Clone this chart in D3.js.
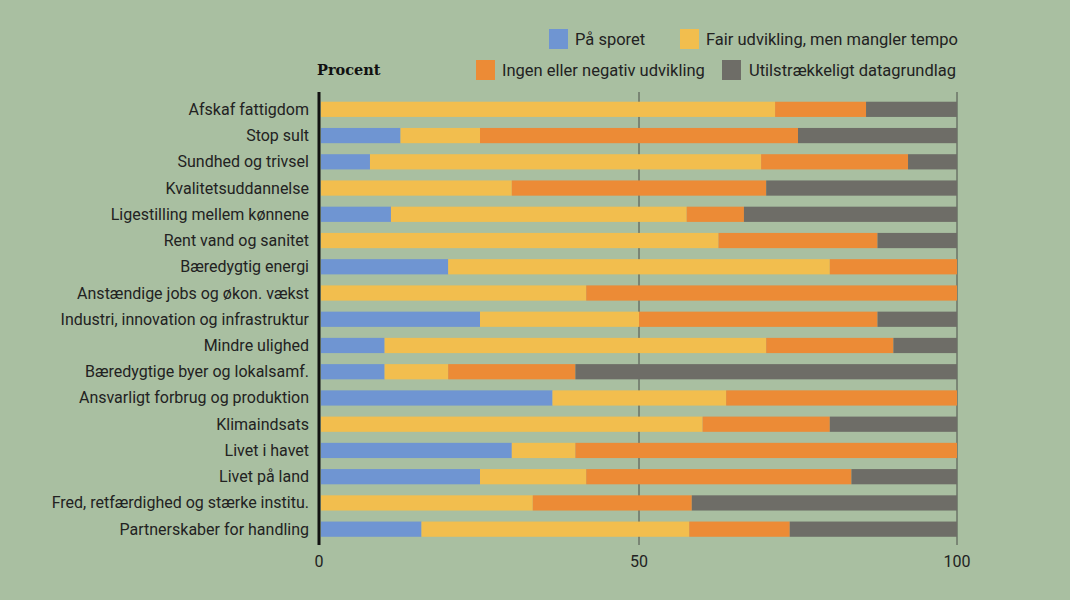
<!DOCTYPE html>
<html>
<head>
<meta charset="utf-8">
<script src="https://cdn.jsdelivr.net/npm/d3@7"></script>
<style>
  html, body { margin: 0; padding: 0; background: #a9bfa1; }
  svg { display: block; }
</style>
</head>
<body>
<svg id="chart" width="1070" height="600"></svg>
<script>
const categories = [
  "Afskaf fattigdom", "Stop sult", "Sundhed og trivsel", "Kvalitetsuddannelse",
  "Ligestilling mellem kønnene", "Rent vand og sanitet", "Bæredygtig energi",
  "Anstændige jobs og økon. vækst", "Industri, innovation og infrastruktur",
  "Mindre ulighed", "Bæredygtige byer og lokalsamf.", "Ansvarligt forbrug og produktion",
  "Klimaindsats", "Livet i havet", "Livet på land",
  "Fred, retfærdighed og stærke institu.", "Partnerskaber for handling"
];
const seriesNames = ["På sporet", "Fair udvikling, men mangler tempo", "Ingen eller negativ udvikling", "Utilstrækkeligt datagrundlag"];
const paaSporet = [0, 12.5, 7.7, 0, 11, 0, 20, 0, 25, 10, 10, 36.4, 0, 30, 25, 0, 15.8];
const fair      = [71.4, 12.5, 61.5, 30, 46.5, 62.5, 60, 41.7, 25, 60, 10, 27.3, 60, 10, 16.7, 33.3, 42.1];
const ingen     = [14.3, 50, 23.1, 40, 9, 25, 20, 58.3, 37.5, 20, 20, 36.3, 20, 60, 41.7, 25, 15.8];
const utilstr   = [14.3, 25, 7.7, 30, 33.5, 12.5, 0, 0, 12.5, 10, 60, 0, 20, 0, 16.6, 41.7, 26.3];
const xTicks = [0, 50, 100];
const colors = ["#6f95d2", "#f2be4e", "#ec8b36", "#6e6d67"];

const keys = ["a", "b", "c", "d"];
const rows = categories.map((c, i) => ({ cat: c, a: paaSporet[i], b: fair[i], c: ingen[i], d: utilstr[i] }));
const stacked = d3.stack().keys(keys)(rows);

const svg = d3.select("#chart");
const x = d3.scaleLinear().domain([0, 100]).range([321, 957]);
const y = d3.scaleBand().domain(categories).range([90.7, 547.8]).padding(0.42);
const color = d3.scaleOrdinal().domain(keys).range(colors);

const gridTop = 92, gridBottom = 545;

// gridlines
svg.append("g").selectAll("line").data(xTicks.filter(t => t > 0)).join("line")
  .attr("x1", d => x(d)).attr("x2", d => x(d))
  .attr("y1", gridTop).attr("y2", gridBottom)
  .attr("stroke", "#4b4d48").attr("stroke-width", 1);

// bars
svg.append("g").selectAll("g").data(stacked).join("g")
  .attr("fill", d => color(d.key))
  .selectAll("rect").data(d => d).join("rect")
  .attr("x", d => x(d[0]))
  .attr("width", d => Math.max(0, x(d[1]) - x(d[0])))
  .attr("y", d => y(d.data.cat))
  .attr("height", y.bandwidth());

// left axis line
svg.append("line")
  .attr("x1", 319).attr("x2", 319).attr("y1", gridTop).attr("y2", gridBottom)
  .attr("stroke", "#111").attr("stroke-width", 3);

// category labels
svg.append("g").selectAll("text").data(categories).join("text")
  .attr("x", 309).attr("y", d => y(d) + y.bandwidth() / 2)
  .attr("text-anchor", "end").attr("dominant-baseline", "central")
  .attr("font-family", "Roboto, sans-serif").attr("font-size", 16)
  .attr("fill", "#222").text(d => d);

// x tick labels
svg.append("g").selectAll("text").data(xTicks).join("text")
  .attr("x", d => x(d) - (d === 0 ? 2 : 0)).attr("y", 561)
  .attr("text-anchor", "middle").attr("dominant-baseline", "central")
  .attr("font-family", "Roboto, sans-serif").attr("font-size", 16)
  .attr("fill", "#222").text(d => d);

// Procent label
svg.append("text").attr("x", 317).attr("y", 69)
  .attr("dominant-baseline", "central")
  .attr("font-family", "'DejaVu Serif', serif").attr("font-weight", "bold")
  .attr("font-size", 14.5).attr("fill", "#111").text("Procent");

// legend
const legendItems = [
  { i: 0, sx: 549, sy: 29, tx: 575 },
  { i: 1, sx: 680, sy: 29, tx: 706 },
  { i: 2, sx: 476, sy: 60, tx: 502 },
  { i: 3, sx: 722, sy: 60, tx: 749 }
];
const lg = svg.append("g").selectAll("g").data(legendItems).join("g");
lg.append("rect").attr("x", d => d.sx).attr("y", d => d.sy)
  .attr("width", 19).attr("height", 20).attr("fill", d => colors[d.i]);
lg.append("text").attr("x", d => d.tx).attr("y", d => d.sy + 10)
  .attr("dominant-baseline", "central")
  .attr("font-family", "Roboto, sans-serif").attr("font-size", 16.5)
  .attr("fill", "#222").text(d => seriesNames[d.i]);
</script>
</body>
</html>
